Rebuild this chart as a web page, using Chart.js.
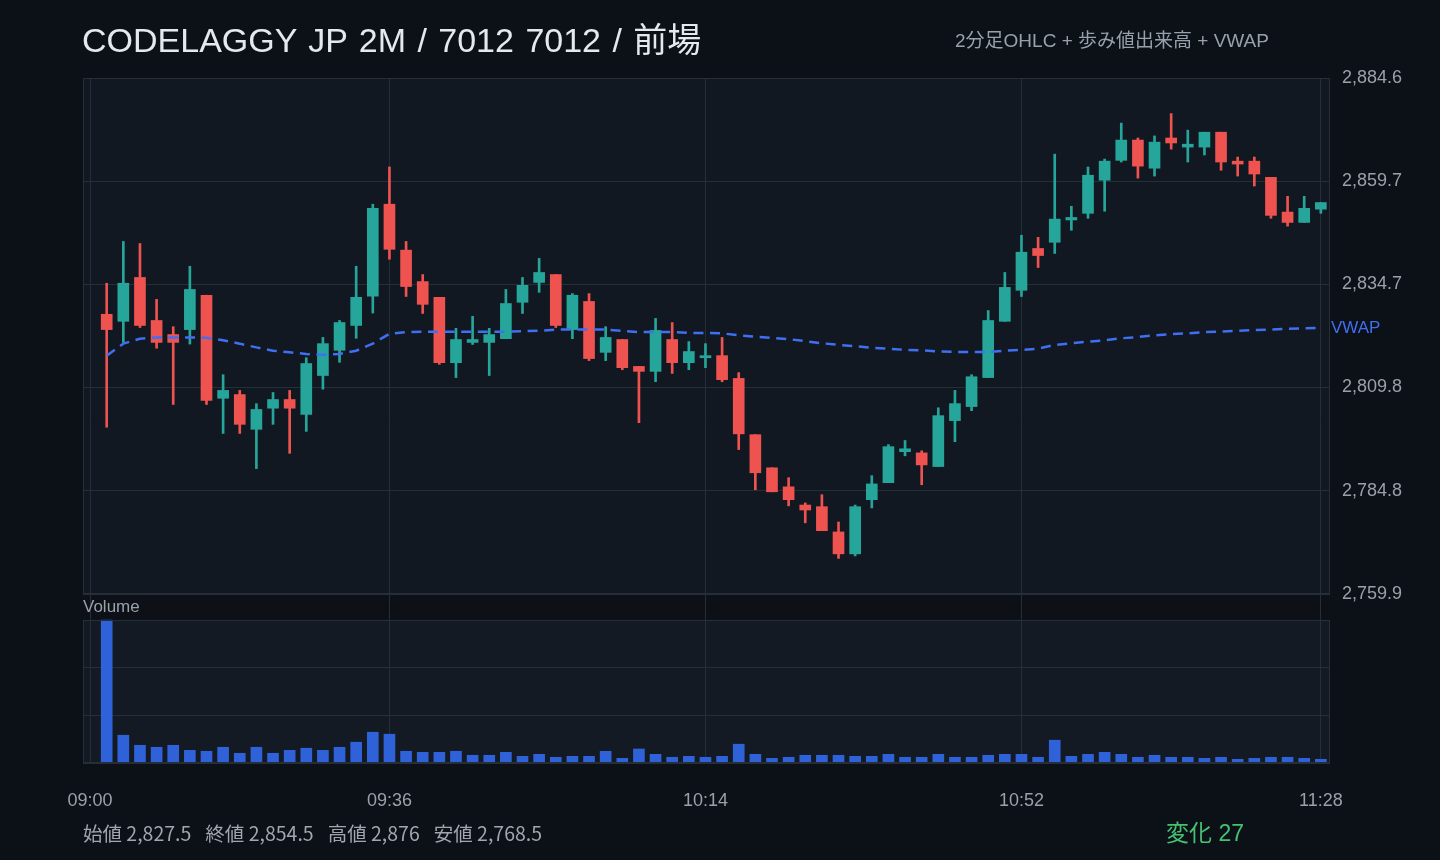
<!DOCTYPE html>
<html lang="ja">
<head>
<meta charset="UTF-8">
<title>CODELAGGY JP 2M / 7012 前場</title>
<style>
  body { margin: 0; background: #0c1017; width: 1440px; height: 860px; overflow: hidden;
         font-family: "Liberation Sans", "Noto Sans CJK JP", sans-serif; }
  #wrap { position: relative; width: 1440px; height: 860px; }
  canvas { position: absolute; left: 0; top: 0; }
  .txt { position: absolute; white-space: nowrap; line-height: 1; }
  #title { left: 82px; top: 23px; font-size: 34px; word-spacing: 2px; color: #e4e9ef; }
  #subtitle { left: 955px; top: 31px; font-size: 19px; color: #98a1ab; }
  #stats { left: 83px; top: 823px; font-size: 19.5px; color: #a0a7ae;
           font-family: "Noto Sans CJK JP", "Noto Sans", sans-serif; }
  #stats span { margin-right: 14px; }
  #change { left: 1166px; top: 822px; font-size: 23px; color: #45c172; }
</style>
</head>
<body>
<div id="wrap">
  <canvas id="chart" width="1440" height="860"></canvas>
  <div class="txt" id="title">CODELAGGY JP 2M / 7012 7012 / 前場</div>
  <div class="txt" id="subtitle">2分足OHLC + 歩み値出来高 + VWAP</div>
  <div class="txt" id="stats"></div>
  <div class="txt" id="change"></div>
</div>

<script src="https://cdn.jsdelivr.net/npm/chart.js"></script>
<script>
// 2-minute bars, 09:02 - 11:28
const times = [
  '09:02','09:04','09:06','09:08','09:10','09:12','09:14','09:16','09:18','09:20',
  '09:22','09:24','09:26','09:28','09:30','09:32','09:34','09:36','09:38','09:40',
  '09:42','09:44','09:46','09:48','09:50','09:52','09:54','09:56','09:58','10:00',
  '10:02','10:04','10:06','10:08','10:10','10:12','10:14','10:16','10:18','10:20',
  '10:22','10:24','10:26','10:28','10:30','10:32','10:34','10:36','10:38','10:40',
  '10:42','10:44','10:46','10:48','10:50','10:52','10:54','10:56','10:58','11:00',
  '11:02','11:04','11:06','11:08','11:10','11:12','11:14','11:16','11:18','11:20',
  '11:22','11:24','11:26','11:28'
];

const open = [
  2827.5, 2825.8, 2836.4, 2826.0, 2822.6, 2823.8, 2832.1, 2807.2, 2808.1, 2799.7,
  2804.8, 2806.9, 2803.3, 2812.7, 2818.8, 2824.8, 2831.9, 2854.1, 2843.0, 2835.4,
  2831.6, 2815.8, 2820.7, 2820.7, 2821.6, 2830.4, 2835.2, 2837.1, 2823.8, 2830.6,
  2818.3, 2821.4, 2814.9, 2813.7, 2821.4, 2815.8, 2817.0, 2817.5, 2812.0, 2798.4,
  2790.4, 2785.8, 2781.4, 2781.0, 2774.9, 2769.6, 2782.7, 2786.8, 2794.3, 2794.0,
  2790.7, 2801.8, 2805.2, 2812.2, 2825.8, 2833.3, 2843.4, 2844.9, 2850.3, 2851.9,
  2859.9, 2864.7, 2869.6, 2862.8, 2870.1, 2867.9, 2867.9, 2871.5, 2864.5, 2864.5,
  2860.6, 2852.2, 2849.7, 2852.9
];
const high = [
  2835.0, 2845.1, 2844.6, 2831.1, 2824.5, 2839.1, 2832.1, 2812.9, 2809.1, 2805.9,
  2808.6, 2809.1, 2817.0, 2821.9, 2826.0, 2839.1, 2854.1, 2863.1, 2845.1, 2837.1,
  2831.6, 2824.1, 2827.0, 2824.1, 2833.5, 2836.4, 2841.0, 2837.1, 2832.5, 2832.5,
  2824.5, 2821.4, 2814.9, 2826.5, 2825.5, 2820.9, 2820.4, 2821.9, 2813.4, 2798.4,
  2790.4, 2788.0, 2781.9, 2783.9, 2777.3, 2781.4, 2788.5, 2796.0, 2797.0, 2794.5,
  2804.9, 2809.1, 2812.9, 2828.4, 2837.6, 2846.6, 2846.1, 2866.2, 2853.6, 2863.1,
  2865.0, 2873.7, 2870.1, 2870.6, 2876.0, 2872.0, 2871.5, 2871.5, 2865.5, 2865.5,
  2860.6, 2856.0, 2856.0, 2854.5
];
const low = [
  2800.2, 2820.7, 2824.3, 2819.3, 2805.7, 2820.3, 2805.7, 2798.7, 2798.7, 2790.2,
  2800.9, 2793.9, 2799.2, 2809.4, 2815.9, 2821.7, 2827.8, 2840.8, 2831.8, 2827.7,
  2815.4, 2812.2, 2820.2, 2812.7, 2821.6, 2827.7, 2832.8, 2824.3, 2821.6, 2816.3,
  2816.3, 2814.1, 2801.3, 2811.2, 2813.2, 2814.1, 2814.6, 2811.2, 2794.8, 2785.1,
  2784.6, 2781.2, 2777.1, 2775.2, 2768.5, 2769.1, 2780.7, 2786.8, 2793.3, 2786.3,
  2790.7, 2796.7, 2804.2, 2812.2, 2825.8, 2831.8, 2838.8, 2842.2, 2847.8, 2850.7,
  2852.4, 2864.3, 2860.4, 2860.9, 2867.4, 2864.3, 2866.0, 2862.3, 2860.9, 2858.5,
  2850.7, 2848.8, 2849.7, 2851.9
];
const close = [
  2823.8, 2835.0, 2824.8, 2820.7, 2820.7, 2833.5, 2806.7, 2809.1, 2800.9, 2804.5,
  2806.9, 2804.8, 2815.6, 2820.4, 2825.5, 2831.6, 2853.1, 2843.2, 2834.2, 2829.9,
  2815.8, 2821.4, 2821.4, 2822.6, 2830.1, 2834.5, 2837.6, 2824.8, 2832.1, 2816.8,
  2821.9, 2814.6, 2813.7, 2823.6, 2815.8, 2818.5, 2817.5, 2811.7, 2798.6, 2789.2,
  2784.6, 2782.7, 2780.2, 2775.2, 2769.6, 2781.0, 2786.5, 2795.5, 2795.0, 2791.1,
  2803.0, 2805.9, 2812.4, 2826.0, 2834.0, 2842.5, 2841.7, 2850.5, 2850.9, 2861.1,
  2864.5, 2869.6, 2863.3, 2869.1, 2868.9, 2868.6, 2871.5, 2864.3, 2863.8, 2861.4,
  2851.4, 2849.7, 2853.1, 2854.5
];
const volume = [
  150000, 29100, 18600, 16500, 18600, 13300, 12300, 16500, 10200, 16500,
  10200, 13300, 15500, 13300, 16500, 21800, 32300, 30200, 12300, 11200,
  11200, 12300, 8100, 8100, 11200, 7000, 9100, 6000, 7000, 7000,
  12300, 4900, 14700, 9100, 6000, 7000, 6000, 7000, 19700, 9100,
  4900, 6000, 8100, 8100, 8100, 7000, 7000, 9100, 6000, 6000,
  9100, 6000, 6000, 8100, 9100, 9100, 6000, 23900, 7000, 9100,
  11200, 9100, 6000, 8100, 6000, 6000, 4900, 6000, 3900, 4900,
  6000, 6000, 4900, 3900
];
const vwap = [
  2817.5, 2820.4, 2821.6, 2821.9, 2821.9, 2821.9, 2821.8, 2821.2, 2820.4, 2819.5,
  2818.7, 2818.3, 2817.9, 2817.7, 2817.9, 2818.7, 2820.4, 2822.8, 2823.2, 2823.3,
  2823.3, 2823.3, 2823.3, 2823.3, 2823.3, 2823.4, 2823.5, 2823.8, 2823.8, 2823.8,
  2823.8, 2823.5, 2823.2, 2823.2, 2823.2, 2823.0, 2823.0, 2822.9, 2822.4, 2822.1,
  2821.8, 2821.5, 2821.0, 2820.5, 2820.1, 2819.8, 2819.4, 2819.2, 2818.9, 2818.8,
  2818.5, 2818.4, 2818.4, 2818.4, 2818.7, 2818.9, 2819.2, 2820.1, 2820.5, 2820.9,
  2821.2, 2821.7, 2822.0, 2822.4, 2822.7, 2822.9, 2823.2, 2823.3, 2823.5, 2823.7,
  2823.8, 2824.0, 2824.1, 2824.2
];

const priceTicks = [2759.9, 2784.8, 2809.8, 2834.7, 2859.7, 2884.6];
const volumeTicks = [0, 50000, 100000, 150000];
const timeTicks = ['09:00', '09:36', '10:14', '10:52', '11:28'];

// colours
const UP = '#26a69a', DOWN = '#ef5350', VOL = '#2f62d9', VWAP_C = '#3f6ff2';
const GRID = '#262e38', TICK = '#9aa1a9';

// panel geometry (px): price pane 78-594, volume pane 620-763
const PLOT_TOP = 78, PLOT_BOTTOM = 763, PRICE_BOTTOM = 594, VOL_TOP = 620;
const priceSpan = priceTicks[priceTicks.length - 1] - priceTicks[0];
const PRICE_MAX = priceTicks[priceTicks.length - 1];
const PRICE_MIN = PRICE_MAX - priceSpan * (PLOT_BOTTOM - PLOT_TOP) / (PRICE_BOTTOM - PLOT_TOP);
const VOL_MAX = volumeTicks[volumeTicks.length - 1] * (PLOT_BOTTOM - PLOT_TOP) / (PLOT_BOTTOM - VOL_TOP);

function toMin(t) {
    const [h, m] = t.split(':').map(Number);
    return (h - 9) * 60 + m;
}
const fmt1 = v => v.toLocaleString('en-US', { minimumFractionDigits: 1, maximumFractionDigits: 1 });
const fmt = v => v.toLocaleString('en-US', { maximumFractionDigits: 1 });

const candleColors = open.map((o, i) => close[i] >= o ? UP : DOWN);

// footer summary
document.getElementById('stats').innerHTML =
    '<span>始値 ' + fmt(open[0]) + '</span>' +
    '<span>終値 ' + fmt(close[close.length - 1]) + '</span>' +
    '<span>高値 ' + fmt(Math.max(...high)) + '</span>' +
    '<span>安値 ' + fmt(Math.min(...low)) + '</span>';
document.getElementById('change').textContent = '変化 ' + fmt(close[close.length - 1] - open[0]);

// pane backgrounds, borders and text labels
const panes = {
    id: 'panes',
    beforeDraw(chart) {
        const { ctx, chartArea: a, scales } = chart;
        const pTop = scales.y.getPixelForValue(PRICE_MAX);
        const pBot = scales.y.getPixelForValue(priceTicks[0]);
        const vTop = scales.yv.getPixelForValue(volumeTicks[volumeTicks.length - 1]);
        const vBot = scales.yv.getPixelForValue(0);
        ctx.save();
        ctx.fillStyle = '#0d1016';
        ctx.fillRect(a.left, pBot, a.width, vTop - pBot);
        ctx.fillStyle = '#121821';
        ctx.fillRect(a.left, pTop, a.width, pBot - pTop);
        ctx.fillStyle = '#131a24';
        ctx.fillRect(a.left, vTop, a.width, vBot - vTop);
        ctx.restore();
    },
    afterDraw(chart) {
        const { ctx, chartArea: a, scales } = chart;
        const pTop = scales.y.getPixelForValue(PRICE_MAX);
        const pBot = scales.y.getPixelForValue(priceTicks[0]);
        const vTop = scales.yv.getPixelForValue(volumeTicks[volumeTicks.length - 1]);
        const vBot = scales.yv.getPixelForValue(0);
        ctx.save();
        ctx.strokeStyle = GRID;
        ctx.lineWidth = 1;
        ctx.strokeRect(a.left + 0.5, pTop + 0.5, a.width - 1, pBot - pTop);
        ctx.strokeRect(a.left + 0.5, vTop + 0.5, a.width - 1, vBot - vTop - 1);

        ctx.font = '17px "Liberation Sans", "Noto Sans CJK JP", sans-serif';
        ctx.textBaseline = 'middle';
        ctx.textAlign = 'left';
        ctx.fillStyle = TICK;
        ctx.fillText('Volume', a.left, (pBot + vTop) / 2);

        const last = vwap.length - 1;
        ctx.fillStyle = VWAP_C;
        ctx.fillText('VWAP', a.right + 1, scales.y.getPixelForValue(vwap[last]));
        ctx.restore();
    }
};

Chart.defaults.font.family = '"Liberation Sans", "Noto Sans CJK JP", sans-serif';

new Chart(document.getElementById('chart'), {
    data: {
        datasets: [
            {
                type: 'line',
                label: 'VWAP',
                data: times.map((t, i) => ({ x: toMin(t), y: vwap[i] })),
                borderColor: VWAP_C,
                borderWidth: 2.5,
                borderDash: [10, 6.6],
                pointRadius: 0,
                tension: 0,
                yAxisID: 'y',
                order: 0
            },
            {
                type: 'bar',
                label: 'body',
                data: times.map((t, i) => ({ x: toMin(t), y: [open[i], close[i]] })),
                backgroundColor: candleColors,
                barThickness: 11,
                minBarLength: 2,
                grouped: false,
                yAxisID: 'y',
                order: 1
            },
            {
                type: 'bar',
                label: 'wick',
                data: times.map((t, i) => ({ x: toMin(t), y: [low[i], high[i]] })),
                backgroundColor: candleColors,
                barThickness: 2,
                grouped: false,
                yAxisID: 'y',
                order: 2
            },
            {
                type: 'bar',
                label: 'Volume',
                data: times.map((t, i) => ({ x: toMin(t), y: volume[i] })),
                backgroundColor: VOL,
                barThickness: 11,
                grouped: false,
                yAxisID: 'yv',
                order: 3
            }
        ]
    },
    options: {
        responsive: false,
        animation: false,
        devicePixelRatio: 1,
        layout: { padding: { left: 83, top: PLOT_TOP, right: 0, bottom: 0 } },
        plugins: { legend: { display: false }, tooltip: { enabled: false } },
        scales: {
            x: {
                type: 'linear',
                offset: false,
                min: -0.85,
                max: 149.1,
                afterBuildTicks: s => { s.ticks = timeTicks.map(t => ({ value: toMin(t) })); },
                afterFit: s => { s.height = 860 - PLOT_BOTTOM; },
                grid: { color: GRID, drawTicks: false, offset: false },
                border: { display: false },
                ticks: {
                    color: TICK,
                    font: { size: 18 },
                    padding: 27,
                    maxRotation: 0,
                    callback: (v, i) => timeTicks[i]
                }
            },
            y: {
                position: 'right',
                min: PRICE_MIN,
                max: PRICE_MAX,
                afterBuildTicks: s => { s.ticks = priceTicks.map(v => ({ value: v })); },
                afterFit: s => { s.width = 110; },
                grid: { color: GRID, drawTicks: false },
                border: { display: false },
                ticks: {
                    color: TICK,
                    font: { size: 18 },
                    padding: 12,
                    callback: v => fmt1(v)
                }
            },
            yv: {
                position: 'right',
                min: 0,
                max: VOL_MAX,
                afterBuildTicks: s => { s.ticks = volumeTicks.map(v => ({ value: v })); },
                afterFit: s => { s.width = 0; },
                grid: { color: GRID, drawTicks: false },
                border: { display: false },
                ticks: { display: false }
            }
        }
    },
    plugins: [panes]
});
</script>
</body>
</html>
